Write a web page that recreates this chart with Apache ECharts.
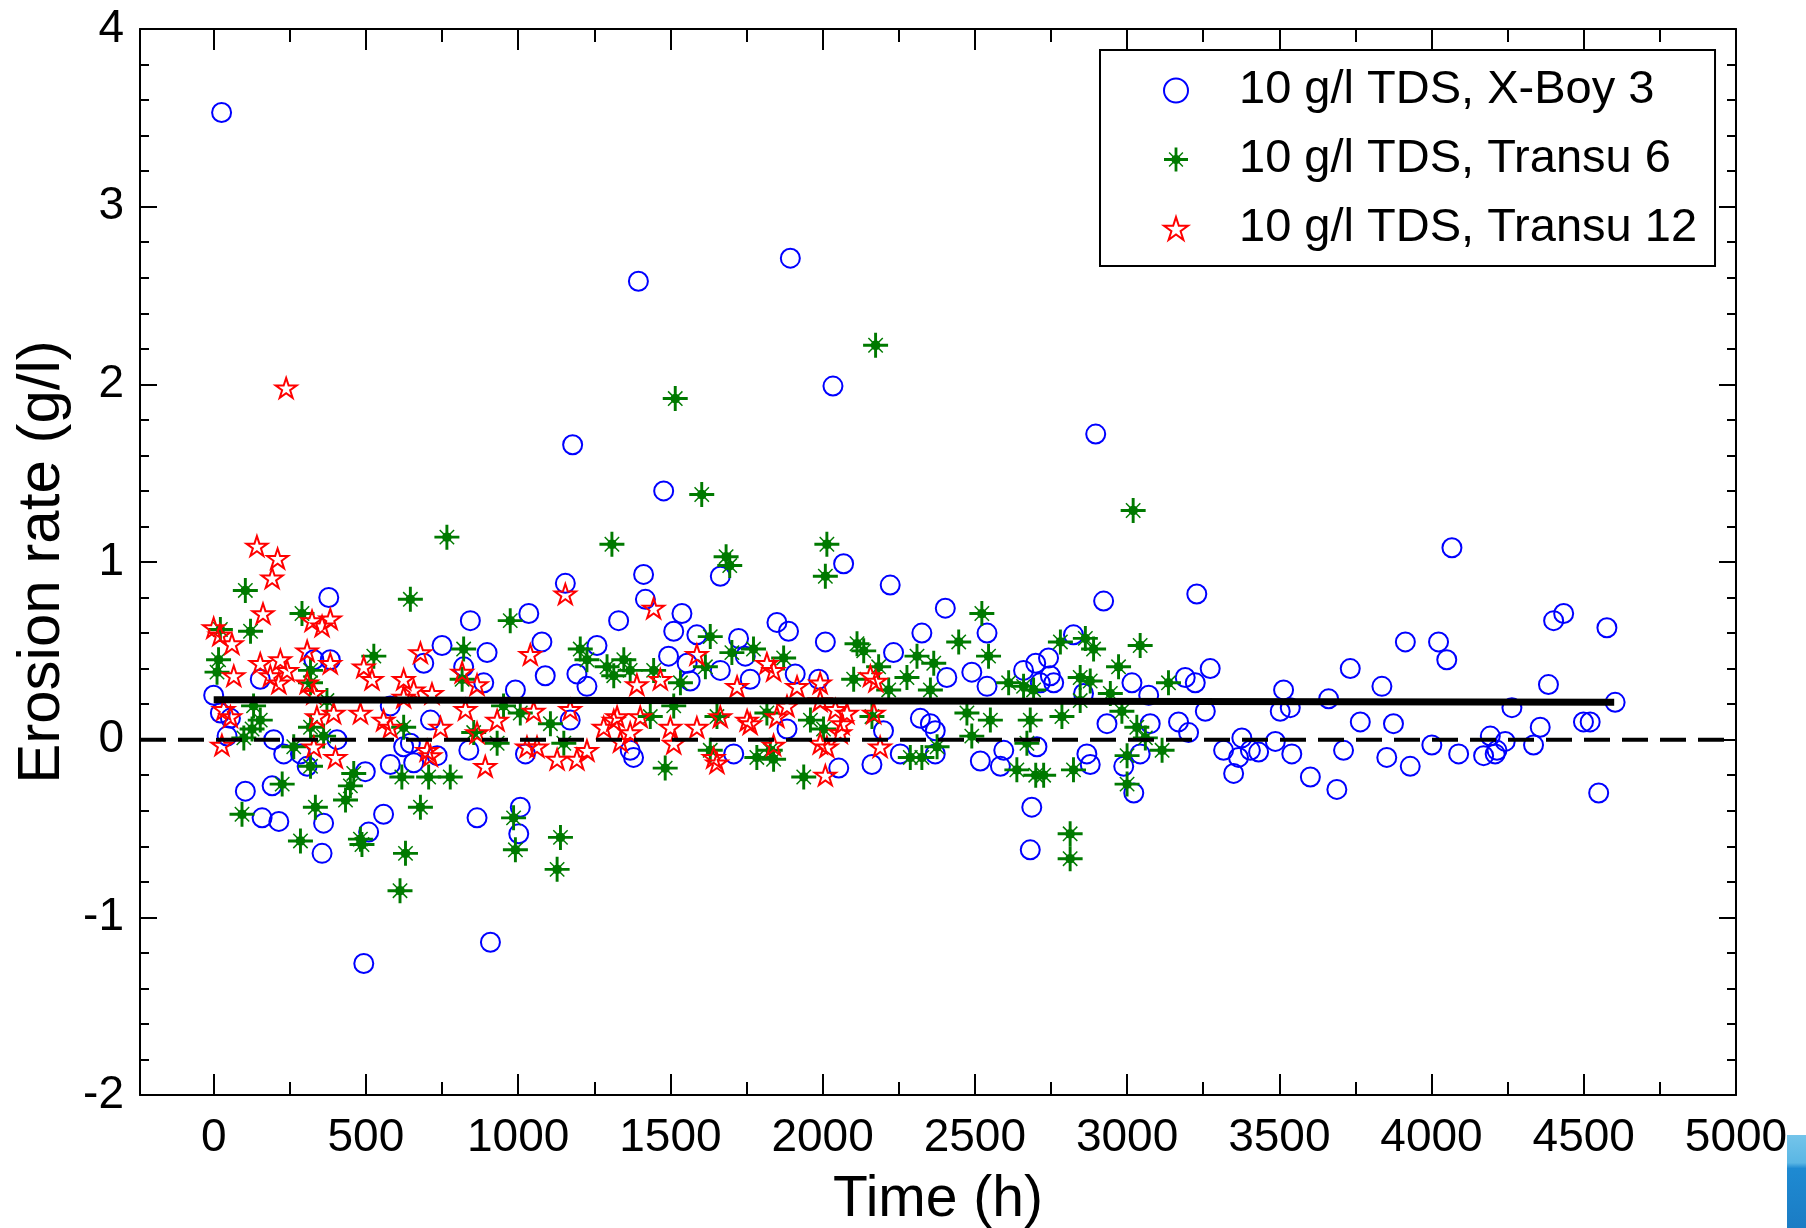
<!DOCTYPE html>
<html>
<head>
<meta charset="utf-8">
<script src="https://cdn.jsdelivr.net/npm/echarts@6/dist/echarts.min.js"></script>
<style>
html,body{margin:0;padding:0;background:#fff;}
#chart{width:1806px;height:1228px;}
</style>
</head>
<body>
<div id="chart"></div>
<script>
// ---- data ----
const seriesNames = ['10 g/l TDS, X-Boy 3', '10 g/l TDS, Transu 6', '10 g/l TDS, Transu 12'];

const xBoyPoints = [
[26,3.53],[1395,2.58],[1894,2.71],[2034,1.99],[1179,1.66],[2897,1.72],[1478,1.40],
[378,0.80],[0,0.25],[22,0.15],[55,0.12],[44,0.02],[383,0.45],[329,0.45],[153,0.34],[197,0.00],[230,-0.08],[285,-0.08],[307,-0.15],[405,0.00],[104,-0.29],[192,-0.26],[159,-0.44],[214,-0.46],[361,-0.47],[558,-0.42],[509,-0.52],[356,-0.64],[498,-0.18],[580,-0.14],[624,-0.04],[493,-1.26],[580,0.19],
[1155,0.88],[843,0.67],[1035,0.71],[1330,0.67],[750,0.53],[1078,0.55],[1259,0.53],[690,0.43],[898,0.49],[821,0.41],[1089,0.36],[1193,0.37],[1226,0.30],[887,0.32],[991,0.28],[712,0.11],[646,-0.02],[657,-0.13],[734,-0.09],[838,-0.06],[1024,-0.08],[1171,0.11],[865,-0.44],[1007,-0.38],[1002,-0.53],[909,-1.14],
[1412,0.93],[1418,0.79],[1664,0.92],[1538,0.71],[1511,0.61],[1587,0.59],[1724,0.57],[1850,0.66],[1888,0.61],[2009,0.55],[1494,0.47],[1555,0.43],[1565,0.33],[1664,0.39],[1746,0.47],[1762,0.34],[1910,0.37],[1987,0.34],[1368,-0.06],[1379,-0.10],[1708,-0.08],[1883,0.06],
[2069,0.99],[2222,0.87],[2403,0.74],[2326,0.60],[2540,0.60],[2233,0.49],[2408,0.35],[2490,0.38],[2660,0.39],[2700,0.43],[2540,0.30],[2321,0.12],[2354,0.09],[2370,0.05],[2200,0.05],[2595,-0.06],[2518,-0.12],[2584,-0.15],[2255,-0.08],[2162,-0.14],[2053,-0.16],[2370,-0.08],[2687,-0.38],[2682,-0.62],
[2923,0.78],[3229,0.82],[2824,0.59],[2742,0.46],[2715,0.32],[2759,0.32],[2748,0.36],[2857,0.26],[3016,0.32],[3071,0.25],[3191,0.35],[3224,0.32],[3273,0.40],[3257,0.16],[2934,0.09],[3076,0.09],[3169,0.10],[3202,0.04],[2704,-0.04],[2868,-0.08],[2879,-0.14],[2989,-0.15],[3043,-0.08],[3022,-0.30],[3317,-0.06],[3377,0.01],[3366,-0.10],[3350,-0.19],
[4067,1.08],[3914,0.55],[4023,0.55],[4050,0.45],[3733,0.40],[3837,0.30],[3514,0.28],[3662,0.23],[3503,0.16],[3536,0.18],[3766,0.10],[3875,0.09],[3405,-0.06],[3432,-0.07],[3487,-0.01],[3541,-0.08],[3602,-0.21],[3689,-0.28],[3711,-0.06],[3853,-0.10],[3930,-0.15],[4001,-0.03],[4089,-0.08],
[4401,0.67],[4434,0.71],[4576,0.63],[4384,0.31],[4264,0.18],[4603,0.21],[4357,0.07],[4499,0.10],[4521,0.10],[4335,-0.03],[4171,-0.09],[4193,0.02],[4215,-0.06],[4242,-0.01],[4209,-0.08],[4549,-0.30]
];

const transu6Points = [
[2174,2.22],[1516,1.92],[1603,1.38],[3020,1.29],
[104,0.84],[290,0.71],[121,0.61],[22,0.62],[16,0.45],[11,0.38],[526,0.47],[318,0.39],[318,0.32],[131,0.19],[153,0.11],[126,0.06],[318,0.07],[99,0.01],[263,-0.04],[361,0.02],[318,-0.15],[460,-0.19],[449,-0.26],[433,-0.34],[225,-0.25],[93,-0.42],[334,-0.38],[285,-0.57],[482,-0.56],[487,-0.59],[646,0.79],[630,-0.64],[612,-0.85],[618,-0.21],[372,0.22],
[766,1.14],[1308,1.10],[974,0.67],[821,0.51],[1204,0.51],[1226,0.45],[1292,0.41],[1314,0.36],[816,0.34],[952,0.19],[1007,0.15],[1106,0.09],[1150,-0.02],[854,0.04],[931,-0.02],[624,0.07],[706,-0.21],[777,-0.21],[679,-0.38],[985,-0.44],[991,-0.62],[1139,-0.55],[1128,-0.73],
[1683,1.03],[1695,0.98],[2014,1.10],[2009,0.92],[1631,0.58],[1347,0.45],[1368,0.39],[1445,0.39],[1533,0.32],[1702,0.49],[1773,0.51],[1872,0.46],[1615,0.41],[1434,0.13],[1511,0.19],[1653,0.13],[1817,0.15],[1960,0.11],[2003,0.06],[1828,-0.06],[1631,-0.06],[1784,-0.10],[1839,-0.11],[1483,-0.16],[1938,-0.21],
[2523,0.71],[2113,0.54],[2135,0.50],[2447,0.55],[2545,0.47],[2310,0.47],[2365,0.43],[2102,0.34],[2277,0.35],[2184,0.41],[2217,0.28],[2354,0.28],[2611,0.32],[2660,0.30],[2162,0.13],[2474,0.15],[2551,0.11],[2682,0.11],[2671,-0.02],[2376,-0.04],[2490,0.02],[2288,-0.10],[2326,-0.10],[2638,-0.17],[2700,-0.20],
[2781,0.55],[2863,0.57],[2890,0.51],[3043,0.53],[2972,0.41],[2846,0.35],[2879,0.33],[2945,0.26],[3136,0.32],[2693,0.28],[2786,0.13],[2846,0.22],[2983,0.16],[3032,0.07],[3060,0.01],[3115,-0.06],[3000,-0.09],[2824,-0.17],[2726,-0.20],[3000,-0.25],[2813,-0.53],[2813,-0.67]
];

const transu12Points = [
[238,1.98],
[142,1.09],[210,1.02],[192,0.91],[162,0.71],[0,0.63],[20,0.59],[60,0.54],[323,0.67],[383,0.68],[356,0.64],[307,0.50],[383,0.43],[153,0.43],[219,0.45],[241,0.39],[186,0.36],[66,0.36],[214,0.32],[493,0.41],[520,0.34],[624,0.34],[33,0.17],[55,0.13],[307,0.32],[329,0.26],[394,0.15],[482,0.15],[558,0.11],[580,0.07],[27,-0.03],[329,-0.04],[400,-0.10],[339,0.13],
[1155,0.82],[679,0.49],[1040,0.48],[816,0.38],[657,0.28],[717,0.26],[624,0.24],[865,0.31],[827,0.17],[745,0.07],[701,-0.06],[712,-0.09],[931,0.11],[865,0.04],[892,-0.15],[1051,0.16],[1029,-0.04],[1171,0.17],[1128,-0.11],[1193,-0.11],[1226,-0.06],[1281,0.07],[1314,0.11],[1062,-0.04],
[1445,0.74],[1390,0.31],[1467,0.34],[1587,0.48],[1719,0.30],[1817,0.43],[1839,0.39],[1916,0.30],[1992,0.32],[1325,0.13],[1401,0.13],[1500,0.07],[1368,0.04],[1587,0.07],[1664,0.13],[1752,0.11],[1762,0.09],[1850,0.13],[1883,0.19],[1336,-0.01],[1511,-0.02],[1642,-0.10],[1653,-0.13],[1839,-0.03],[1992,-0.02],[2009,-0.20],
[2157,0.36],[2175,0.33],[1992,0.22],[2042,0.17],[2080,0.15],[2064,0.09],[2168,0.15],[2014,-0.04],[2189,-0.04],[2058,0.04]
];

const meanLine = [[0,0.225],[4600,0.21]];
const zeroLine = [[-242,0],[5000,0]];

const xMajorTicks = [0,500,1000,1500,2000,2500,3000,3500,4000,4500,5000];
const xMinorTicks = [250,750,1250,1750,2250,2750,3250,3750,4250,4750];
const xRange = [-242, 5000];
const yRange = [-2, 4];
const yStep = 1;

// ---- styling ----
const FONT = 'Liberation Sans, Arial, Helvetica, sans-serif';
const starPath = 'path://M50 0 L61.2 34.5 L97.6 34.5 L68.2 55.9 L79.4 90.5 L50 69.1 L20.6 90.5 L31.8 55.9 L2.4 34.5 L38.8 34.5 Z';
const asteriskPath = 'path://M10.6 0 L13.4 0 L13.4 24 L10.6 24 Z M0 10.6 L24 10.6 L24 13.4 L0 13.4 Z ' +
  'M12 7 L15.5 8.5 L17 12 L15.5 15.5 L12 17 L8.5 15.5 L7 12 L8.5 8.5 Z ' +
  'M5.6 4.6 L19.4 18.4 L18.4 19.4 L4.6 5.6 Z M18.4 4.6 L19.4 5.6 L5.6 19.4 L4.6 18.4 Z';

const axisLineStyle = {show: true, onZero: false, lineStyle: {color: '#000', width: 2}};

function xAxisDef(pos, ticks, len, withLabel) {
  return {
    type: 'value', position: pos, min: xRange[0], max: xRange[1],
    axisLine: withLabel !== null ? axisLineStyle : {show: false, onZero: false},
    axisTick: {show: true, inside: true, length: len, customValues: ticks, lineStyle: {color: '#000', width: 2}},
    axisLabel: withLabel ? {show: true, customValues: xMajorTicks, formatter: v => String(v), fontSize: 46, fontFamily: FONT, color: '#000', margin: 20} : {show: false},
    splitLine: {show: false}
  };
}

const xAxes = [
  Object.assign(xAxisDef('bottom', xMajorTicks, 21, true), {
    name: 'Time (h)', nameLocation: 'middle', nameGap: 77,
    nameTextStyle: {fontSize: 57, fontFamily: FONT, color: '#000'}
  }),
  xAxisDef('bottom', xMinorTicks, 13, null),
  xAxisDef('top', xMajorTicks, 21, false),
  xAxisDef('top', xMinorTicks, 13, null)
];

function yAxisDef(pos, withLabel) {
  return {
    type: 'value', position: pos, min: yRange[0], max: yRange[1], interval: yStep,
    axisLine: axisLineStyle,
    axisTick: {show: true, inside: true, length: 17, lineStyle: {color: '#000', width: 2}},
    minorTick: {show: true, splitNumber: 5, length: 9, lineStyle: {color: '#000', width: 2}},
    axisLabel: withLabel ? {show: true, fontSize: 46, fontFamily: FONT, color: '#000', margin: 16} : {show: false},
    splitLine: {show: false}, minorSplitLine: {show: false}
  };
}
const yAxes = [
  Object.assign(yAxisDef('left', true), {
    name: 'Erosion rate (g/l)', nameLocation: 'middle', nameGap: 58,
    nameTextStyle: {fontSize: 60, fontFamily: FONT, color: '#000'}
  }),
  yAxisDef('right', false)
];

const chart = echarts.init(document.getElementById('chart'), null, {renderer: 'canvas'});
chart.setOption({
  animation: false,
  backgroundColor: '#fff',
  grid: {left: 140, right: 70, top: 29, bottom: 133, containLabel: false, outerBoundsMode: 'none'},
  xAxis: xAxes,
  yAxis: yAxes,
  legend: {
    data: seriesNames,
    orient: 'vertical', left: 1100, top: 50,
    padding: [17, 18, 14, 63],
    itemGap: 22, itemWidth: 24, itemHeight: 24,
    borderColor: '#000', borderWidth: 2, backgroundColor: '#fff',
    selectedMode: false,
    textStyle: {fontSize: 47, fontFamily: FONT, color: '#000', padding: [0, 0, 0, 46]}
  },
  series: [
    {
      name: seriesNames[0], type: 'scatter', data: xBoyPoints, z: 2,
      symbol: 'circle', symbolSize: 19,
      itemStyle: {color: 'rgba(0,0,0,0)', borderColor: '#0000ff', borderWidth: 2, opacity: 1},
      emphasis: {disabled: true}
    },
    {
      name: seriesNames[1], type: 'scatter', data: transu6Points, z: 3,
      symbol: asteriskPath, symbolSize: 25, symbolKeepAspect: true,
      itemStyle: {color: '#007a00', opacity: 1},
      emphasis: {disabled: true}
    },
    {
      name: seriesNames[2], type: 'scatter', data: transu12Points, z: 4,
      symbol: starPath, symbolSize: 21, symbolKeepAspect: true,
      itemStyle: {color: 'rgba(0,0,0,0)', borderColor: '#ff0000', borderWidth: 2, opacity: 1},
      emphasis: {disabled: true}
    },
    {
      name: 'mean', type: 'line', data: meanLine, z: 6, symbol: 'none', silent: true,
      lineStyle: {color: '#000', width: 7}
    },
    {
      name: 'zero', type: 'line', data: zeroLine, z: 5, symbol: 'none', silent: true,
      lineStyle: {color: '#000', width: 4, type: [26, 12]}
    }
  ],
  graphic: [{
    type: 'rect', left: 1787, top: 1135, silent: true,
    shape: {width: 19, height: 93},
    style: {fill: new echarts.graphic.LinearGradient(0, 0, 0, 1, [
      {offset: 0, color: '#74c4ea'}, {offset: 0.3, color: '#5ab6e4'},
      {offset: 0.36, color: '#1e8ad2'}, {offset: 1, color: '#1b7cc4'}
    ])}
  }]
});
</script>
</body>
</html>
